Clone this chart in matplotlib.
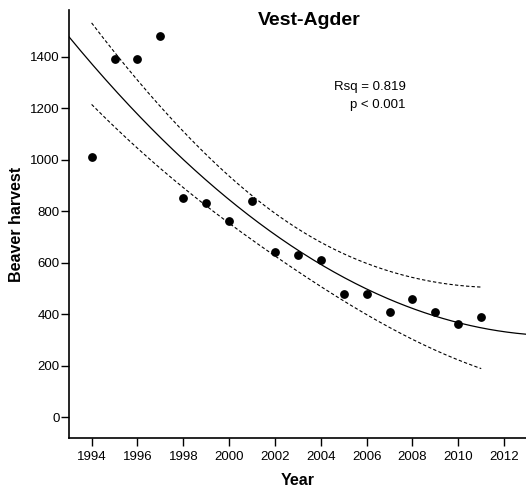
import numpy as np
import matplotlib
matplotlib.use("Agg")
import matplotlib.pyplot as plt

years = [1994, 1995, 1996, 1997, 1998, 1999, 2000, 2001, 2002, 2003,
         2004, 2005, 2006, 2007, 2008, 2009, 2010, 2011]
harvest = [1010, 1390, 1390, 1480, 850, 830, 760, 840, 640, 630,
           610, 480, 480, 410, 460, 410, 360, 390]
title = "Vest-Agder"
stats_text = ["Rsq = 0.819", "p < 0.001"]
xticks = list(range(1994, 2013, 2))
yticks = list(range(0, 1401, 200))

plt.rcParams['font.family'] = ['Liberation Sans', 'DejaVu Sans']

x = np.array(years, dtype=float)
y = np.array(harvest, dtype=float)
x0 = x.mean()
X = np.column_stack([np.ones_like(x), x - x0, (x - x0) ** 2])
beta, *_ = np.linalg.lstsq(X, y, rcond=None)
resid = y - X @ beta
n = len(x)
s = np.sqrt(resid @ resid / (n - 3))
sxx = ((x - x0) ** 2).sum()
tval = 2.131  # t(0.975, 15)


def fit(xx):
    return beta[0] + beta[1] * (xx - x0) + beta[2] * (xx - x0) ** 2


xf = np.linspace(1993, 2013, 300)
xc = np.linspace(min(years), max(years), 300)
half = tval * s * np.sqrt(1.0 / n + (xc - x0) ** 2 / sxx)

fig = plt.figure(figsize=(5.26, 4.96), dpi=100)
ax = fig.add_axes([0.1306, 0.1169, 0.8714, 0.8631])

ax.plot(xf, fit(xf), color='black', lw=0.9)
ax.plot(xc, fit(xc) + half, color='black', lw=0.8, ls=(0, (3, 2)))
ax.plot(xc, fit(xc) - half, color='black', lw=0.8, ls=(0, (3, 2)))
ax.plot(years, harvest, 'o', color='black', ms=5.3, zorder=3)

ax.set_xlim(1993, 2013)
ax.set_ylim(-81, 1581)
ax.set_xticks(xticks)
ax.set_yticks(yticks)
ax.tick_params(labelsize=9.5, length=5.5, width=1.0, direction='out', colors='black')
ax.tick_params(axis='x', pad=4)
ax.tick_params(axis='y', pad=1)
for sp in ['top', 'right']:
    ax.spines[sp].set_visible(False)
for sp in ['left', 'bottom']:
    ax.spines[sp].set_linewidth(1.2)

ax.set_xlabel("Year", fontsize=11.5, fontweight='bold', labelpad=7)
ax.set_ylabel("Beaver harvest", fontsize=11.5, fontweight='bold', labelpad=4)

fig.text(309 / 526, 1 - 20.5 / 496, title, fontsize=14, fontweight='bold', ha='center', va='center')
fig.text(406 / 526, 1 - 87 / 496, stats_text[0], fontsize=9.5, ha='right', va='center')
fig.text(406 / 526, 1 - 105 / 496, stats_text[1], fontsize=9.5, ha='right', va='center')

fig.savefig("out.png", dpi=100)
